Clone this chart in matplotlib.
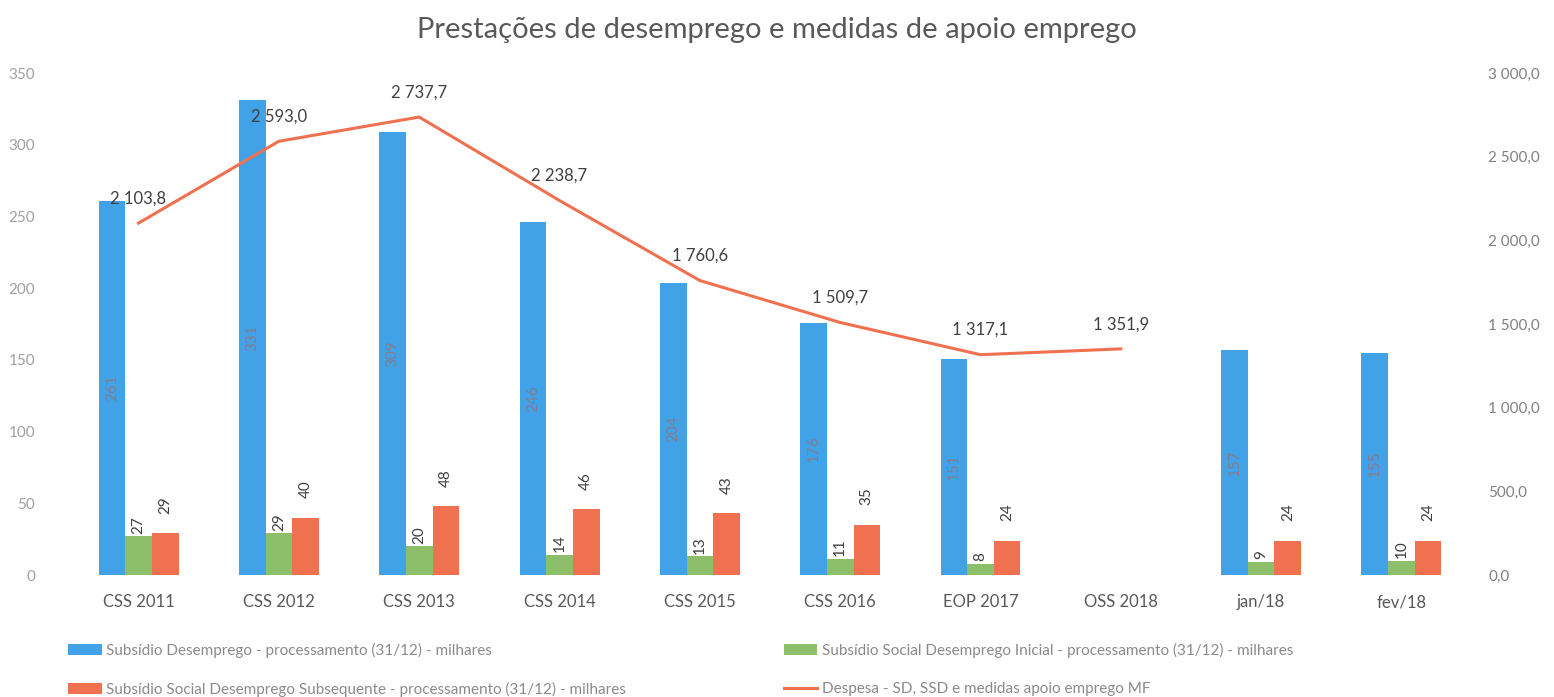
import numpy as np
import matplotlib
matplotlib.use("Agg")
from matplotlib import pyplot as plt

categorias = ['CSS 2011', 'CSS 2012', 'CSS 2013', 'CSS 2014', 'CSS 2015',
              'CSS 2016', 'EOP 2017', 'OSS 2018', 'jan/18', 'fev/18']
sd = [261, 331, 309, 246, 204, 176, 151, np.nan, 157, 155]
ssd_inicial = [27, 29, 20, 14, 13, 11, 8, np.nan, 9, 10]
ssd_subseq = [29, 40, 48, 46, 43, 35, 24, np.nan, 24, 24]
despesa = [2103.8, 2593.0, 2737.7, 2238.7, 1760.6, 1509.7, 1317.1, 1351.9, np.nan, np.nan]

nomes = ['Subsídio Desemprego - processamento (31/12) - milhares',
         'Subsídio Social Desemprego Subsequente - processamento (31/12) - milhares',
         'Subsídio Social Desemprego Inicial - processamento (31/12) - milhares',
         'Despesa - SD, SSD e medidas apoio emprego MF']

azul = '#42a2e8'
verde = '#8dbf6b'
laranja = '#ef7150'

plt.rcParams['font.family'] = ['Lato', 'DejaVu Sans']


def fmt(v):
    return f"{v:,.1f}".replace(",", " ").replace(".", ",")


fig = plt.figure(figsize=(15.54, 6.97), dpi=100)
ax = fig.add_axes([0.044, 0.175, 0.903, 0.72])
ax2 = ax.twinx()

x = np.arange(len(categorias))
w = 0.19
b1 = ax.bar(x - w, sd, w, color=azul, label=nomes[0])
b3 = ax.bar(x + w, ssd_subseq, w, color=laranja, label=nomes[1])
b2 = ax.bar(x, ssd_inicial, w, color=verde, label=nomes[2])

for xi, v in zip(x, sd):
    if not np.isnan(v):
        ax.text(xi - w, v / 2, str(v), rotation=90, ha='center', va='center',
                fontsize=11, color='#857d8c')
for xi, v in zip(x, ssd_inicial):
    if not np.isnan(v):
        ax.annotate(str(v), (xi, v), xytext=(0, 2), textcoords='offset points',
                    rotation=90, ha='center', va='bottom', fontsize=11, color='#404040')
for xi, v in zip(x, ssd_subseq):
    if not np.isnan(v):
        ax.annotate(str(v), (xi + w, v), xytext=(0, 14), textcoords='offset points',
                    rotation=90, ha='center', va='bottom', fontsize=11, color='#404040')

ln, = ax2.plot(x, despesa, color=laranja, lw=2.2, label=nomes[3])
for xi, v in zip(x, despesa):
    if not np.isnan(v):
        ax2.annotate(fmt(v), (xi, v), xytext=(0, 12), textcoords='offset points',
                     ha='center', va='bottom', fontsize=12, color='#404040')

ax.set_xlim(-0.5, len(categorias) - 0.5)
ax.set_ylim(0, 350)
ax2.set_ylim(0, 3000)
ax.set_yticks(range(0, 351, 50))
ax2.set_yticks(range(0, 3001, 500))
ax2.set_yticklabels([fmt(t) for t in range(0, 3001, 500)])
ax.set_xticks(x)
ax.set_xticklabels(categorias)

for a in (ax, ax2):
    for s in a.spines.values():
        s.set_visible(False)
    a.tick_params(length=0)
ax.tick_params(axis='y', labelsize=11, labelcolor='#a0a0a0', pad=24)
ax2.tick_params(axis='y', labelsize=11, labelcolor='#808080', pad=12)
ax.tick_params(axis='x', labelsize=12, labelcolor='#595959', pad=14)

fig.suptitle('Prestações de desemprego e medidas de apoio emprego',
             y=0.975, fontsize=21, color='#595959')

fig.legend(handles=[b1, b3, b2, ln], labels=nomes, ncol=2, loc='lower left',
           bbox_to_anchor=(0.035, -0.02), frameon=False, fontsize=11,
           labelcolor='#8a8a8a', handlelength=2.2, handletextpad=0.3,
           columnspacing=10.3, labelspacing=1.6)

fig.savefig('out.png', dpi=100)
